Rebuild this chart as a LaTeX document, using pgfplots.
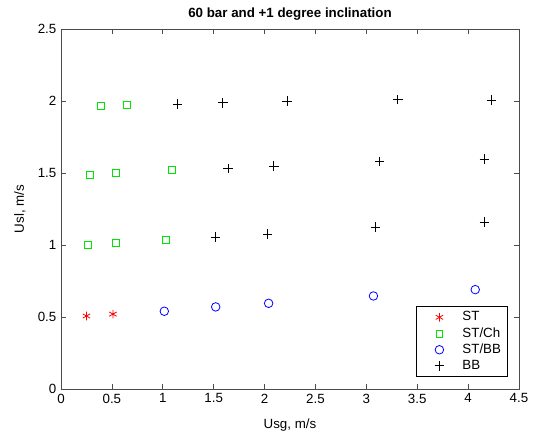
\documentclass[border=0pt]{standalone}
\usepackage{fontspec}
\setmainfont{Liberation Sans}
\usepackage{pgfplots}
\pgfplotsset{compat=1.18}
\definecolor{mred}{RGB}{255,0,0}
\definecolor{mgreen}{RGB}{0,230,0}
\definecolor{mblue}{RGB}{0,0,255}
\begin{document}
\fontsize{10pt}{12pt}\selectfont
\begin{tikzpicture}
\path[use as bounding box] (-45.75pt,-37.5pt) rectangle (354pt,291.75pt);
\begin{axis}[
  at={(0,0)}, anchor=south west,
  scale only axis,
  width=343.5pt, height=270pt,
  xmin=0, xmax=4.5, ymin=0, ymax=2.5,
  xtick={0,0.5,...,4.5}, ytick={0,0.5,...,2.5},
  xticklabels={0,0.5,1,1.5,2,2.5,3,3.5,4,4.5},
  yticklabels={0,0.5,1,1.5,2,2.5},
  tick align=inside, tick pos=both,
  major tick length=4pt,
  axis line style={black!70, line width=0.6pt},
  tick style={black!70, line width=0.5pt},
  title={\bfseries 60 bar and +1 degree inclination},
  title style={at={(0.5,1)}, anchor=center, yshift=5.5pt},
  xlabel={Usg, m/s}, ylabel={Usl, m/s},
  xlabel style={at={(0.5,0)}, anchor=center, yshift=-27pt},
  ylabel style={at={(0,0.5)}, anchor=center, rotate=0, yshift=30.75pt},
  legend style={at={(0.976,0.033)}, anchor=south east, draw=black, line width=0.5pt,
    font=\fontsize{10pt}{12pt}\selectfont, row sep=-0.5pt, inner xsep=3pt, inner ysep=2pt, cells={anchor=west}},
  legend cell align=left,
  legend image code/.code={\path (0pt,0pt) (29pt,0pt); \draw[mark repeat=1] plot coordinates {(14pt,0pt)};},
]
\addplot[only marks, mark=asterisk, mred, mark size=3.2pt, line width=0.6pt] coordinates {(0.25,0.507) (0.51,0.52)};
\addlegendentry{ST}
\addplot[only marks, mark=square, mgreen, mark size=2.6pt, line width=0.6pt] coordinates {
(0.39,1.965) (0.65,1.974)
(0.285,1.488) (0.54,1.502) (1.09,1.52)
(0.265,1.0) (0.54,1.014) (1.03,1.035)};
\addlegendentry{ST/Ch}
\addplot[only marks, mark=o, mblue, mark size=3.2pt, line width=0.6pt] coordinates {
(1.015,0.54) (1.52,0.57) (2.04,0.595) (3.07,0.646) (4.07,0.69)};
\addlegendentry{ST/BB}
\addplot[only marks, mark=+, black, mark size=3.6pt, line width=0.6pt] coordinates {
(1.146,1.979) (1.59,1.988) (2.22,1.998) (3.31,2.01) (4.23,2.007)
(1.643,1.532) (2.09,1.549) (3.13,1.581) (4.16,1.597)
(1.52,1.056) (2.03,1.076) (3.09,1.125) (4.16,1.16)};
\addlegendentry{BB}
\end{axis}
\end{tikzpicture}
\end{document}
